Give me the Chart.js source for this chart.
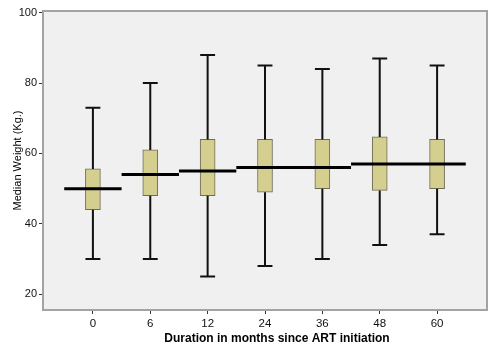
<!DOCTYPE html>
<html><head><meta charset="utf-8">
<script src="https://cdn.jsdelivr.net/npm/chart.js@4/dist/chart.umd.min.js"></script>
<style>html,body{margin:0;padding:0;background:#fff}#wrap{width:500px;height:348px}</style>
</head><body><div id="wrap"><canvas id="c" width="500" height="348"></canvas></div>
<script>
const categories = ['0','6','12','24','36','48','60'];
const whiskerMin = [30, 30, 25, 28, 30, 34, 37];
const boxQ1      = [44, 48, 48, 49, 50, 49.5, 50];
const medians    = [50, 54, 55, 56, 56, 57, 57];
const boxQ3      = [55.6, 61, 64, 64, 64, 64.7, 64];
const whiskerMax = [73, 80, 88, 85, 84, 87, 85];
const yTicks = [20, 40, 60, 80, 100];
const xTitle = 'Duration in months since ART initiation';

const CAP = 0.13;   // half cap width in category units
const boxes = categories.map((c,i)=>({x:i, y:[boxQ1[i], boxQ3[i]]}));
const whisk = [];
categories.forEach((c,i)=>{
  whisk.push({x:i,y:boxQ3[i]},{x:i,y:whiskerMax[i]},{x:i,y:null});
  whisk.push({x:i-CAP,y:whiskerMax[i]},{x:i+CAP,y:whiskerMax[i]},{x:i,y:null});
  whisk.push({x:i,y:boxQ1[i]},{x:i,y:whiskerMin[i]},{x:i,y:null});
  whisk.push({x:i-CAP,y:whiskerMin[i]},{x:i+CAP,y:whiskerMin[i]},{x:i,y:null});
});
const med = [];
categories.forEach((c,i)=>{
  med.push({x:i-0.5,y:medians[i]},{x:i+0.5,y:medians[i]},{x:i,y:null});
});

const frame = {
  id:'frame',
  beforeDatasetsDraw(chart){
    const a = chart.chartArea, ctx = chart.ctx;
    ctx.save();
    ctx.fillStyle = '#f0f0f0';
    ctx.fillRect(a.left, a.top, a.right-a.left, a.bottom-a.top);
    ctx.strokeStyle = '#a3a3a3';
    ctx.lineWidth = 2;
    ctx.strokeRect(a.left, a.top, a.right-a.left, a.bottom-a.top);
    ctx.restore();
  },
  afterDraw(chart){
    const a = chart.chartArea, ctx = chart.ctx;
    ctx.save();
    ctx.font = 'bold 12px "Liberation Sans"';
    ctx.fillStyle = '#000';
    ctx.textAlign = 'center';
    ctx.textBaseline = 'middle';
    ctx.fillText(xTitle, (a.left + a.right)/2 + 12, a.bottom + 29);
    ctx.restore();
  }
};

new Chart(document.getElementById('c'), {
  type:'bar',
  data:{datasets:[
    {type:'line', data:med, borderColor:'#000', borderWidth:3, pointRadius:0, spanGaps:false, order:1},
    {type:'line', data:whisk, borderColor:'#111', borderWidth:2, pointRadius:0, spanGaps:false, order:2},
    {type:'bar', data:boxes, backgroundColor:'#d5cf8f', borderColor:'#6e6c55', borderWidth:1, borderSkipped:false, barThickness:15, order:3}
  ]},
  options:{
    responsive:false, animation:false,
    layout:{padding:{left:0, right:13, top:11, bottom:0}},
    plugins:{legend:{display:false}, tooltip:{enabled:false}},
    scales:{
      x:{type:'linear', min:-0.87, max:6.87, offset:false,
        afterFit(s){s.height = 38;},
        grid:{display:true, offset:false, drawOnChartArea:false, drawTicks:true, tickLength:4, color:'#333'},
        border:{display:false},
        ticks:{stepSize:1, includeBounds:false, autoSkip:false, maxRotation:0, padding:3,
          font:{family:'Liberation Sans', size:11.5}, color:'#111',
          callback:(v)=>categories[v]},
        title:{display:false}
      },
      y:{type:'linear', min:15.5, max:100.5,
        afterFit(s){s.width = 43;},
        afterBuildTicks(s){s.ticks = yTicks.map(v=>({value:v}));},
        grid:{display:true, offset:false, drawOnChartArea:false, drawTicks:true, tickLength:4, color:'#333'},
        border:{display:false},
        ticks:{padding:2, font:{family:'Liberation Sans', size:11}, color:'#111'},
        title:{display:true, text:'Median Weight (Kg.)', padding:{top:11,bottom:0},
          font:{family:'Liberation Sans', size:11}, color:'#000'}
      }
    }
  },
  plugins:[frame]
});
</script></body></html>
